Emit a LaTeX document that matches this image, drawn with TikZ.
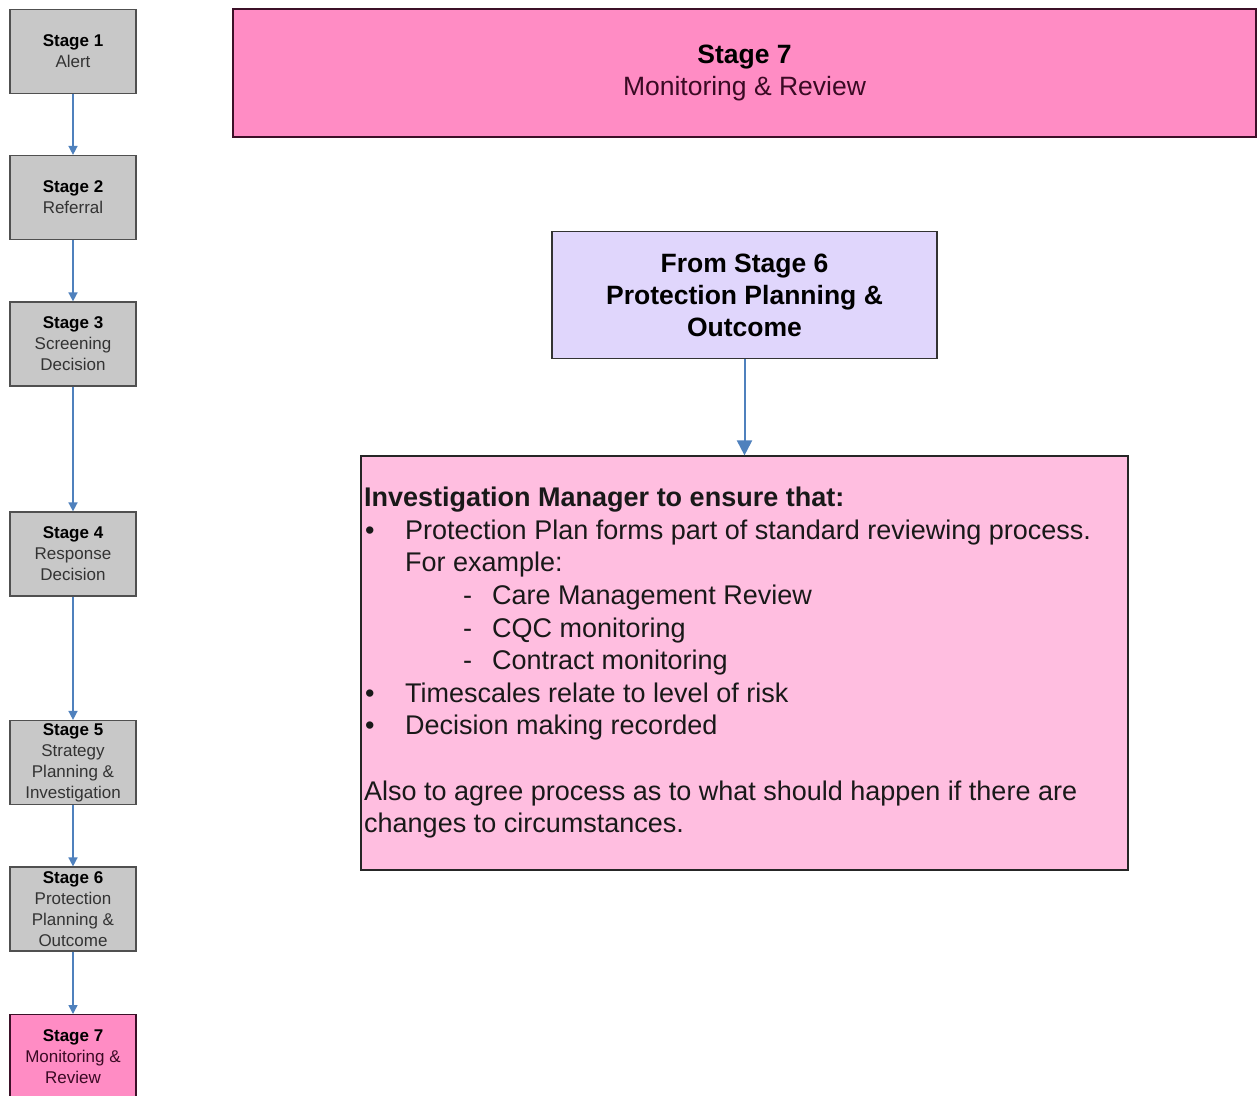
\documentclass[tikz,border=0pt]{standalone}
\usepackage{fontspec}
\setmainfont{Liberation Sans}
\usetikzlibrary{arrows.meta}

\definecolor{stagegray}{HTML}{C8C8C8}
\definecolor{boxedge}{HTML}{505050}
\definecolor{subgrey}{HTML}{333333}
\definecolor{hotpink}{HTML}{FF8CC4}
\definecolor{pinkedge}{HTML}{3C1028}
\definecolor{palepink}{HTML}{FFBEE0}
\definecolor{lavender}{HTML}{E0D6FC}
\definecolor{flowblue}{HTML}{4F81BD}
\definecolor{plumtext}{HTML}{3A0A24}

\begin{document}
\begin{tikzpicture}[x=1pt,y=-1pt,
  stagebox/.style={draw=boxedge, fill=stagegray, line width=1.2pt,
    minimum width=126pt, minimum height=84pt, inner sep=0pt, align=center,
    font=\fontsize{17}{21}\selectfont, text=subgrey},
  flow/.style={draw=flowblue, line width=1.5pt, -{Triangle[width=9pt,length=9pt]}},
  bigflow/.style={draw=flowblue, line width=2pt, -{Triangle[width=15pt,length=15pt]}},
  headtext/.style={font=\fontsize{26.5}{32}\selectfont, align=center}]
\useasboundingbox (0,0) rectangle (1257,1095);
\fill[white] (0,0) rectangle (1257,1095);

% stage column
\node[stagebox] (s1) at (73,51.5) {{\color{black}\bfseries Stage 1}\\Alert};
\node[stagebox] (s2) at (73,197.5) {{\color{black}\bfseries Stage 2}\\Referral};
\node[stagebox] (s3) at (73,344) {{\color{black}\bfseries Stage 3}\\Screening\\Decision};
\node[stagebox] (s4) at (73,554) {{\color{black}\bfseries Stage 4}\\Response\\Decision};
\node[stagebox] (s5) at (73,762.5) {{\color{black}\bfseries Stage 5}\\Strategy\\Planning \&\\Investigation};
\node[stagebox] (s6) at (73,909) {{\color{black}\bfseries Stage 6}\\Protection\\Planning \&\\Outcome};
% the current stage runs on past the lower edge of the page
\node[stagebox, fill=hotpink, draw=pinkedge, text=plumtext, anchor=north]
  (s7) at (73,1014) {{\color{black}\bfseries Stage 7}\\Monitoring \&\\Review};

\draw[flow] (s1) -- (s2);
\draw[flow] (s2) -- (s3);
\draw[flow] (s3) -- (s4);
\draw[flow] (s4) -- (s5);
\draw[flow] (s5) -- (s6);
\draw[flow] (s6) -- (s7.north);

% current stage banner
\node[draw=pinkedge, fill=hotpink, line width=1.5pt, minimum width=1023pt,
  minimum height=128pt, inner sep=0pt, headtext, text=plumtext]
  (top) at (744.5,73) {{\color{black}\bfseries Stage 7}\\Monitoring \& Review};

% incoming stage
\node[draw=black!80, fill=lavender, line width=1.2pt, minimum width=385pt,
  minimum height=127pt, inner sep=0pt, headtext, font=\fontsize{26.5}{32}\selectfont\bfseries]
  (from6) at (744.5,295) {From Stage 6\\Protection Planning \&\\Outcome};

% task box
\node[draw=black!85, fill=palepink, line width=1.2pt, minimum width=767pt,
  minimum height=414pt, inner sep=0pt] (task) at (744.5,663) {};

\draw[bigflow] (from6) -- (task.north);

\node[anchor=north west, inner sep=0pt, align=left,
  font=\fontsize{27}{32.6}\selectfont, text=black!90]
  (tasktext) at (364,487) {%
  \textbf{Investigation Manager to ensure that:}\\
  \makebox[41pt][l]{\hspace*{1pt}•}Protection Plan forms part of standard reviewing process.\\
  \hspace*{41pt}For example:\\
  \hspace*{99pt}\makebox[29pt][l]{-}Care Management Review\\
  \hspace*{99pt}\makebox[29pt][l]{-}CQC monitoring\\
  \hspace*{99pt}\makebox[29pt][l]{-}Contract monitoring\\
  \makebox[41pt][l]{\hspace*{1pt}•}Timescales relate to level of risk\\
  \makebox[41pt][l]{\hspace*{1pt}•}Decision making recorded\\
  \mbox{}\\
  Also to agree process as to what should happen if there are\\
  changes to circumstances.};
\end{tikzpicture}
\end{document}
